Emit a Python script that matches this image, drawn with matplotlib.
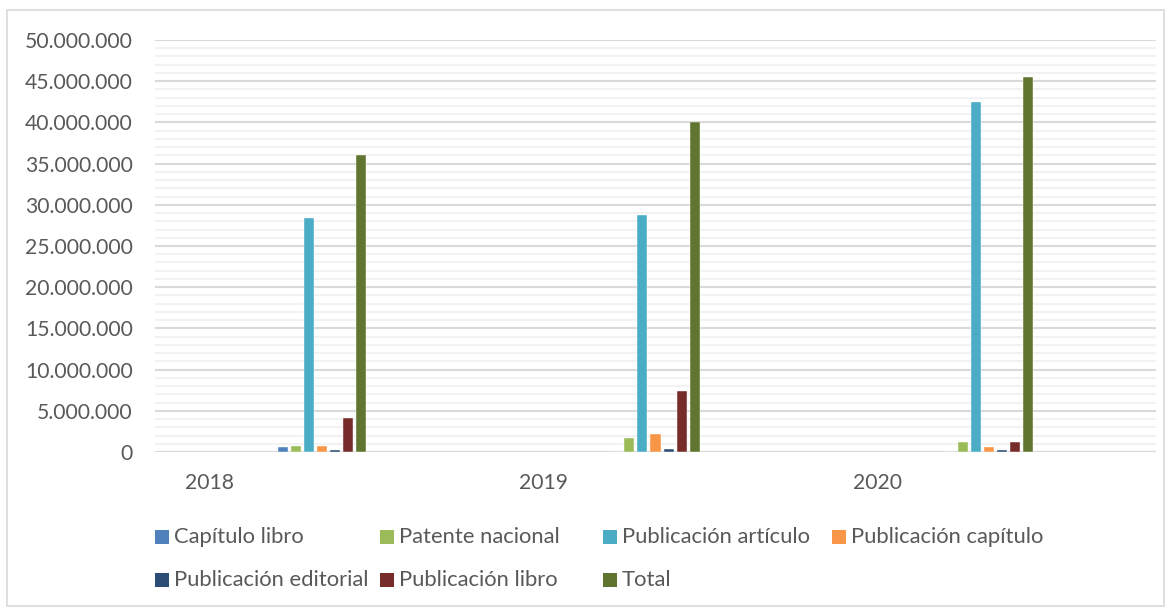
import matplotlib.pyplot as plt
import matplotlib.ticker as mticker
from matplotlib.patches import Rectangle
import numpy as np

years = ['2018', '2019', '2020']
series_names = ['Capítulo libro', 'Patente nacional', 'Publicación artículo',
                'Publicación capítulo', 'Publicación editorial', 'Publicación libro', 'Total']
capitulo_libro = [600000, 0, 0]
patente_nacional = [700000, 1650000, 1180000]
publicacion_articulo = [28350000, 28750000, 42500000]
publicacion_capitulo = [700000, 2150000, 570000]
publicacion_editorial = [250000, 350000, 280000]
publicacion_libro = [4100000, 7400000, 1180000]
total = [36000000, 40050000, 45500000]

values = [capitulo_libro, patente_nacional, publicacion_articulo, publicacion_capitulo,
          publicacion_editorial, publicacion_libro, total]
colors = ['#4F81BD', '#9BBB59', '#4BACC6', '#F79646', '#2C4D75', '#772C2A', '#5F7530']

plt.rcParams['font.family'] = ['Lato', 'DejaVu Sans']
W, H = 1170, 608

fig = plt.figure(figsize=(W / 100, H / 100), dpi=100)
ax = fig.add_axes([155 / W, 156 / H, 1001 / W, 412 / H])

x = np.arange(len(years))
slot = 13 / 333.5
width = 10 / 333.5
for i, (name, vals, c) in enumerate(zip(series_names, values, colors)):
    ax.bar(x + (i - 3) * slot, vals, width, color=c, label=name,
           edgecolor='white', linewidth=0.3, zorder=3)

ax.set_xlim(-0.5, len(years) - 0.5)
ax.set_ylim(0, 50000000)
ax.yaxis.set_major_locator(mticker.MultipleLocator(5000000))
ax.yaxis.set_minor_locator(mticker.MultipleLocator(1000000))
ax.yaxis.set_major_formatter(mticker.FuncFormatter(lambda v, p: f'{int(v):,}'.replace(',', '.')))
ax.grid(which='major', axis='y', color='#D9D9D9', linewidth=1.5, zorder=0)
ax.grid(which='minor', axis='y', color='#F2F2F2', linewidth=1.5, zorder=0)
ax.axhline(0, color='#D9D9D9', linewidth=1.5, zorder=2)

ax.set_xticks(x - 0.336)
ax.set_xticklabels(years)
ax.tick_params(axis='both', which='both', length=0, labelsize=15.2, colors='#595959')
ax.tick_params(axis='y', pad=16)
ax.tick_params(axis='x', pad=15)
for s in ax.spines.values():
    s.set_visible(False)

# legend laid out like Excel: equal-width columns, row order
col_x = [155, 380, 603, 832]
row_y = [537, 580]
for k, (name, c) in enumerate(zip(series_names, colors)):
    cx = col_x[k % 4]
    cy = row_y[k // 4]
    fig.patches.append(Rectangle((cx / W, 1 - (cy + 7) / H), 14 / W, 14 / H,
                                 transform=fig.transFigure, facecolor=c, edgecolor='none'))
    fig.text((cx + 19) / W, 1 - cy / H, name, fontsize=15.8, color='#595959',
             ha='left', va='center')

fig.patches.append(Rectangle((7 / W, 2 / H), 1157 / W, 596 / H, transform=fig.transFigure,
                             fill=False, edgecolor='#D9D9D9', linewidth=1.2))

fig.savefig('out.png', dpi=100)
